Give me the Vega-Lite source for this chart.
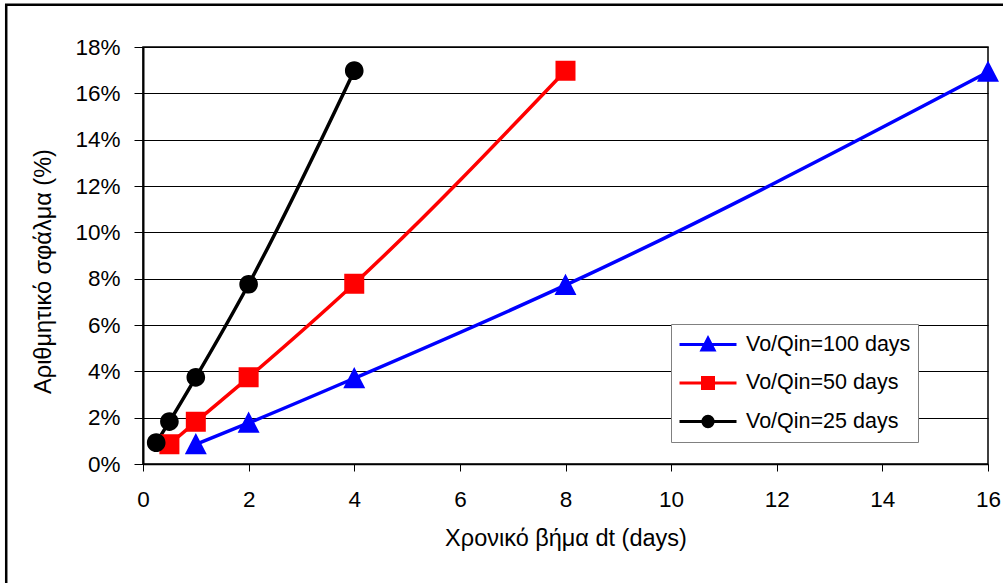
{
  "$schema": "https://vega.github.io/schema/vega-lite/v6.json",
  "width": 845,
  "height": 417,
  "autosize": {"type": "none"},
  "padding": {"left": 143, "top": 47, "right": 15, "bottom": 119},
  "background": "white",
  "config": {
    "font": "Liberation Sans",
    "view": {"stroke": "black", "strokeWidth": 1.5},
    "axis": {
      "labelFont": "Liberation Sans",
      "titleFont": "Liberation Sans",
      "labelFontSize": 22.5,
      "titleFontSize": 23.5,
      "labelColor": "black",
      "titleColor": "black",
      "titleFontWeight": "normal",
      "domainColor": "black",
      "tickColor": "black"
    }
  },
  "data": {"values": [
    {"series": "Vo/Qin=100 days", "dt": 1, "err": 0.0085},
    {"series": "Vo/Qin=100 days", "dt": 2, "err": 0.0177},
    {"series": "Vo/Qin=100 days", "dt": 4, "err": 0.0370},
    {"series": "Vo/Qin=100 days", "dt": 8, "err": 0.0772},
    {"series": "Vo/Qin=100 days", "dt": 16, "err": 0.1692},
    {"series": "Vo/Qin=50 days", "dt": 0.5, "err": 0.0085},
    {"series": "Vo/Qin=50 days", "dt": 1, "err": 0.0182},
    {"series": "Vo/Qin=50 days", "dt": 2, "err": 0.0374},
    {"series": "Vo/Qin=50 days", "dt": 4, "err": 0.0778},
    {"series": "Vo/Qin=50 days", "dt": 8, "err": 0.1698},
    {"series": "Vo/Qin=25 days", "dt": 0.25, "err": 0.0092},
    {"series": "Vo/Qin=25 days", "dt": 0.5, "err": 0.0183},
    {"series": "Vo/Qin=25 days", "dt": 1, "err": 0.0374},
    {"series": "Vo/Qin=25 days", "dt": 2, "err": 0.0776},
    {"series": "Vo/Qin=25 days", "dt": 4, "err": 0.1698}
  ]},
  "layer": [
    {
      "data": {"values": [{"frame": 1}]},
      "mark": {"type": "rect", "fill": "transparent", "stroke": "black", "strokeWidth": 2.5, "clip": false},
      "encoding": {
        "x": {"datum": -2.59, "type": "quantitative", "scale": {"domain": [0, 16], "nice": false}},
        "x2": {"datum": 16.6},
        "y": {"datum": 0.1982, "type": "quantitative"},
        "y2": {"datum": -0.06}
      }
    },
    {
      "mark": {"type": "line", "strokeWidth": 3.5, "interpolate": "monotone"},
      "encoding": {
        "x": {"field": "dt", "type": "quantitative", "scale": {"domain": [0, 16], "nice": false},
          "axis": {"values": [0, 2, 4, 6, 8, 10, 12, 14, 16], "title": "Χρονικό βήμα dt (days)", "grid": false,
            "domainWidth": 1.5, "tickSize": 7, "labelPadding": 17, "titlePadding": 16, "labelFlush": false}},
        "y": {"field": "err", "type": "quantitative", "scale": {"domain": [0, 0.18], "nice": false},
          "axis": {"values": [0, 0.02, 0.04, 0.06, 0.08, 0.1, 0.12, 0.14, 0.16, 0.18], "format": ".0%",
            "title": "Αριθμητικό σφάλμα (%)", "grid": true, "gridColor": "black", "gridWidth": 1, "gridOpacity": 1,
            "domainWidth": 2, "tickSize": 9, "labelPadding": 14, "titlePadding": 19, "titleY": 224}},
        "color": {"field": "series", "type": "nominal",
          "scale": {"domain": ["Vo/Qin=100 days", "Vo/Qin=50 days", "Vo/Qin=25 days"], "range": ["#0000FF", "#FF0000", "#000000"]}},
        "detail": {"field": "series"}
      }
    },
    {
      "mark": {"type": "point", "filled": true, "opacity": 1, "size": 10733},
      "encoding": {
        "x": {"field": "dt", "type": "quantitative"},
        "y": {"field": "err", "type": "quantitative"},
        "color": {"field": "series", "type": "nominal",
          "legend": {
            "title": null, "orient": "none", "legendX": 528, "legendY": 277,
            "strokeColor": "#808080", "fillColor": "white", "padding": 7,
            "labelFontSize": 21.5, "labelFont": "Liberation Sans", "labelColor": "black", "labelOffset": 8, "labelLimit": 400,
            "symbolSize": 3249, "symbolOpacity": 1, "symbolStrokeWidth": 3, "rowPadding": 11.5, "clipHeight": 27,
            "encode": {"symbols": {"update": {"stroke": {"scale": "color", "field": "value"}, "strokeWidth": {"value": 3}}}}
          }},
        "shape": {"field": "series", "type": "nominal",
          "scale": {"domain": ["Vo/Qin=100 days", "Vo/Qin=50 days", "Vo/Qin=25 days"],
            "range": [
              "M-1,0L1,0M0,-0.22L0.212,0.19L-0.212,0.19Z",
              "M-1,0L1,0M-0.193,-0.193L0.193,-0.193L0.193,0.193L-0.193,0.193Z",
              "M-1,0L1,0M0.18,0A0.18,0.18,0,1,1,-0.18,0A0.18,0.18,0,1,1,0.18,0Z"
            ]}}
      }
    }
  ]
}
